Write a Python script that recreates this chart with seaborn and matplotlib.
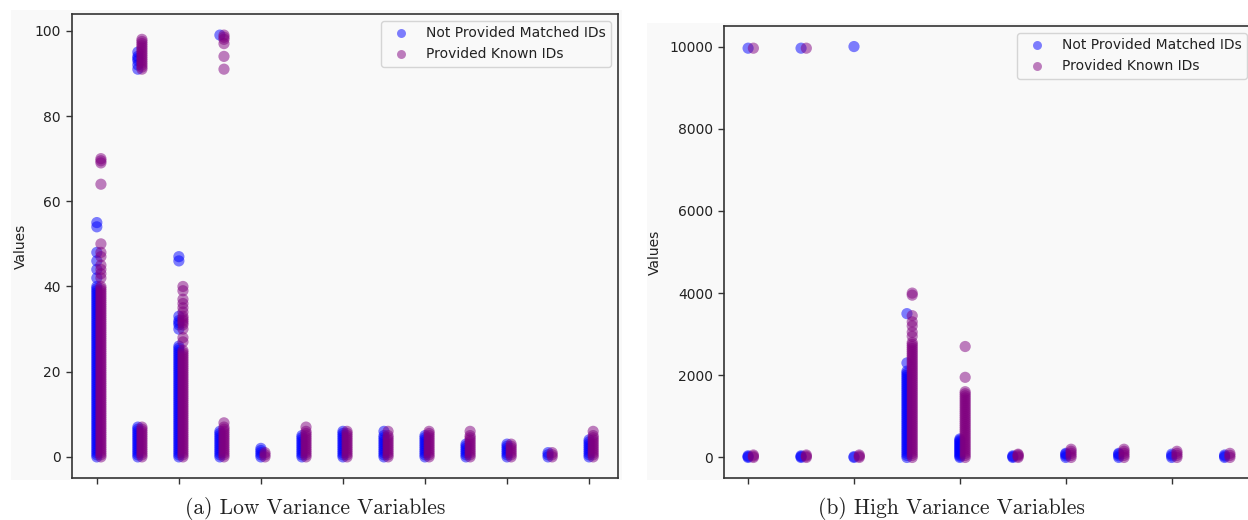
import matplotlib
matplotlib.use("Agg")
import matplotlib.pyplot as plt
from matplotlib.patches import Rectangle
from matplotlib.ticker import MultipleLocator, NullFormatter
import seaborn as sns
import pandas as pd

# ---------------- data ----------------
group_names = ["Not Provided Matched IDs", "Provided Known IDs"]
group_colors = ["blue", "purple"]

# Low variance variables (13 variables, no tick labels)
low_not_provided = [
    [0, 0.5, 1, 1.5, 2, 2.5, 3, 3.5, 4, 4.5, 5, 5.5, 6, 6.5, 7, 7.5, 8, 8.5, 9, 9.5, 10, 10.5,
     11, 11.5, 12, 12.5, 13, 13.5, 14, 14.5, 15, 15.5, 16, 16.5, 17, 17.5, 18, 18.5, 19, 19.5,
     20, 20.5, 21, 21.5, 22, 22.5, 23, 23.5, 24, 24.5, 25, 25.5, 26, 26.5, 27, 27.5, 28, 28.5,
     29, 29.5, 30, 30.5, 31, 31.5, 32, 32.5, 33, 33.5, 34, 34.5, 35, 35.5, 36, 36.5, 37, 37.5,
     38, 38.5, 39, 39.5, 40, 42, 44, 46, 48, 54, 55],
    [0, 0.5, 1, 1.5, 2, 2.5, 3, 3.5, 4, 4.5, 5, 5.5, 6, 6.5, 7, 91, 92, 93, 93.5, 94, 95],
    [0, 0.5, 1, 1.5, 2, 2.5, 3, 3.5, 4, 4.5, 5, 5.5, 6, 6.5, 7, 7.5, 8, 8.5, 9, 9.5, 10, 10.5,
     11, 11.5, 12, 12.5, 13, 13.5, 14, 14.5, 15, 15.5, 16, 16.5, 17, 17.5, 18, 18.5, 19, 19.5,
     20, 20.5, 21, 21.5, 22, 22.5, 23, 23.5, 24, 24.5, 25, 25.5, 26, 30, 31, 31.5, 32, 33,
     46, 47],
    [0, 0.5, 1, 1.5, 2, 2.5, 3, 3.5, 4, 4.5, 5, 5.5, 6, 99],
    [0, 0.5, 1, 1.5, 2],
    [0, 0.5, 1, 1.5, 2, 2.5, 3, 3.5, 4, 4.5, 5],
    [0, 0.5, 1, 1.5, 2, 2.5, 3, 3.5, 4, 4.5, 5, 5.5, 6],
    [0, 0.5, 1, 1.5, 2, 2.5, 3, 3.5, 4, 4.5, 5, 6],
    [0, 0.5, 1, 1.5, 2, 2.5, 3, 3.5, 4, 4.5, 5],
    [0, 0.5, 1, 1.5, 2, 2.5, 3],
    [0, 0.5, 1, 1.5, 2, 2.5, 3],
    [0, 0.5, 1],
    [0, 0.5, 1, 1.5, 2, 2.5, 3, 3.5, 4],
]
low_provided = [
    [0, 0.5, 1, 1.5, 2, 2.5, 3, 3.5, 4, 4.5, 5, 5.5, 6, 6.5, 7, 7.5, 8, 8.5, 9, 9.5, 10, 10.5,
     11, 11.5, 12, 12.5, 13, 13.5, 14, 14.5, 15, 15.5, 16, 16.5, 17, 17.5, 18, 18.5, 19, 19.5,
     20, 20.5, 21, 21.5, 22, 22.5, 23, 23.5, 24, 24.5, 25, 25.5, 26, 26.5, 27, 27.5, 28, 28.5,
     29, 29.5, 30, 30.5, 31, 31.5, 32, 32.5, 33, 33.5, 34, 34.5, 35, 35.5, 36, 36.5, 37, 37.5,
     38, 38.5, 39, 39.5, 40, 42, 43, 44, 45, 47, 48, 50, 64, 69, 69.5, 70],
    [0, 0.5, 1, 1.5, 2, 2.5, 3, 3.5, 4, 4.5, 5, 5.5, 6, 6.5, 7, 91, 91.5, 92, 92.5, 93, 93.5,
     94, 94.5, 95, 95.5, 96, 96.5, 97, 97.5, 98],
    [0, 0.5, 1, 1.5, 2, 2.5, 3, 3.5, 4, 4.5, 5, 5.5, 6, 6.5, 7, 7.5, 8, 8.5, 9, 9.5, 10, 10.5,
     11, 11.5, 12, 12.5, 13, 13.5, 14, 14.5, 15, 15.5, 16, 16.5, 17, 17.5, 18, 18.5, 19, 19.5,
     20, 20.5, 21, 21.5, 22, 22.5, 23, 23.5, 24, 24.5, 25, 27, 28, 30, 31, 31.5, 32, 32.5, 33,
     34, 35, 36, 37, 39, 40],
    [0, 0.5, 1, 1.5, 2, 2.5, 3, 3.5, 4, 4.5, 5, 5.5, 6, 6.5, 7, 8, 91, 94, 97, 98, 98.5, 99],
    [0, 0.5, 1],
    [0, 0.5, 1, 1.5, 2, 2.5, 3, 3.5, 4, 4.5, 5, 5.5, 6, 7],
    [0, 0.5, 1, 1.5, 2, 2.5, 3, 3.5, 4, 4.5, 5, 5.5, 6],
    [0, 0.5, 1, 1.5, 2, 2.5, 3, 3.5, 4, 4.5, 5, 6],
    [0, 0.5, 1, 1.5, 2, 2.5, 3, 3.5, 4, 4.5, 5, 5.5, 6],
    [0, 0.5, 1, 1.5, 2, 2.5, 3, 3.5, 4, 4.5, 5, 6],
    [0, 0.5, 1, 1.5, 2, 2.5, 3],
    [0, 0.5, 1],
    [0, 0.5, 1, 1.5, 2, 2.5, 3, 3.5, 4, 4.5, 5, 6],
]

# High variance variables (10 variables, no tick labels)
high_not_provided = [
    [0, 20, 40, 9960],
    [0, 20, 40, 9960],
    [0, 20, 10000],
    [0, 50, 100, 150, 200, 250, 300, 350, 400, 450, 500, 550, 600, 650, 700, 750, 800, 850, 900,
     950, 1000, 1050, 1100, 1150, 1200, 1250, 1300, 1350, 1400, 1450, 1500, 1550, 1600, 1650,
     1700, 1750, 1800, 1850, 1900, 1950, 2000, 2050, 2100, 2300, 3500],
    [0, 30, 60, 90, 120, 150, 180, 210, 240, 270, 300, 330, 360, 390, 420, 450],
    [0, 20, 40],
    [0, 40, 80, 100],
    [0, 40, 80, 100],
    [0, 40, 80],
    [0, 30, 60],
]
high_provided = [
    [0, 30, 60, 9960],
    [0, 30, 60, 9960],
    [0, 30, 60],
    [0, 50, 100, 150, 200, 250, 300, 350, 400, 450, 500, 550, 600, 650, 700, 750, 800, 850, 900,
     950, 1000, 1050, 1100, 1150, 1200, 1250, 1300, 1350, 1400, 1450, 1500, 1550, 1600, 1650,
     1700, 1750, 1800, 1850, 1900, 1950, 2000, 2050, 2100, 2150, 2200, 2250, 2300, 2350, 2400,
     2450, 2500, 2550, 2600, 2650, 2700, 2750, 2800, 2950, 3050, 3200, 3300, 3450, 3950, 4000],
    [0, 50, 100, 150, 200, 250, 300, 350, 400, 450, 500, 550, 600, 650, 700, 750, 800, 850, 900,
     950, 1000, 1050, 1100, 1150, 1200, 1250, 1300, 1350, 1400, 1450, 1500, 1550, 1600, 1950,
     2700],
    [0, 30, 60, 80],
    [0, 50, 100, 150, 200],
    [0, 50, 100, 150, 200],
    [0, 50, 100, 150],
    [0, 50, 100],
]

captions = ["(a) Low Variance Variables", "(b) High Variance Variables"]


def build_frame(not_provided, provided):
    rows = []
    for series, name, off in ((not_provided, group_names[0], 0.0), (provided, group_names[1], 0.1)):
        for i, vals in enumerate(series):
            for v in vals:
                rows.append({"pos": i + off, "value": v, "group": name})
    return pd.DataFrame(rows)


sns.set_theme(style="white")
plt.rcParams["font.family"] = ["DejaVu Sans"]

BG = "#f9f9f9"
fig = plt.figure(figsize=(12.48, 5.2), dpi=100)
fig.patch.set_facecolor("white")

W, H = 1248.0, 520.0
# light grey "image" backgrounds of the two panels
for (x0, y0, x1, y1) in ((11, 10, 622, 480), (647, 23, 1260, 480)):
    fig.patches.append(Rectangle((x0 / W, 1 - y1 / H), (x1 - x0) / W, (y1 - y0) / H,
                                 transform=fig.transFigure, facecolor=BG, edgecolor="none",
                                 zorder=-10))

ax1 = fig.add_axes([72 / W, 1 - 478 / H, (618 - 72) / W, (478 - 14) / H])
ax2 = fig.add_axes([724 / W, 1 - 478 / H, (1254 - 724) / W, (478 - 26) / H])

palette = dict(zip(group_names, group_colors))
for ax, (npv, pv), cap, cx in ((ax1, (low_not_provided, low_provided), captions[0], 315.5),
                              (ax2, (high_not_provided, high_provided), captions[1], 951.5)):
    df = build_frame(npv, pv)
    sns.scatterplot(data=df, x="pos", y="value", hue="group", hue_order=group_names,
                    palette=palette, alpha=0.5, s=65, linewidth=0, ax=ax)
    ax.set_facecolor(BG)
    ax.set_xlabel("")
    ax.set_ylabel("Values", fontsize=10, labelpad=5, color="#222222")
    ax.xaxis.set_major_locator(MultipleLocator(2))
    ax.xaxis.set_major_formatter(NullFormatter())
    ax.tick_params(axis="both", which="major", direction="out", length=4.5, width=1,
                   labelsize=10, colors="#333333", labelcolor="#222222", bottom=True, left=True)
    for sp in ax.spines.values():
        sp.set_color("#333333")
        sp.set_linewidth(1.2)
    leg = ax.legend(loc="upper right", fontsize=10, frameon=True, markerscale=0.8)
    leg.get_frame().set_edgecolor("#cccccc")
    leg.get_frame().set_facecolor(BG)
    for t in leg.get_texts():
        t.set_color("#222222")
    fig.text(cx / W, 1 - 508 / H, cap, ha="center", va="center", fontsize=15.5,
             family=["cmr10", "DejaVu Serif"], color="#222222")

fig.savefig("out.png", dpi=100, facecolor="white")
